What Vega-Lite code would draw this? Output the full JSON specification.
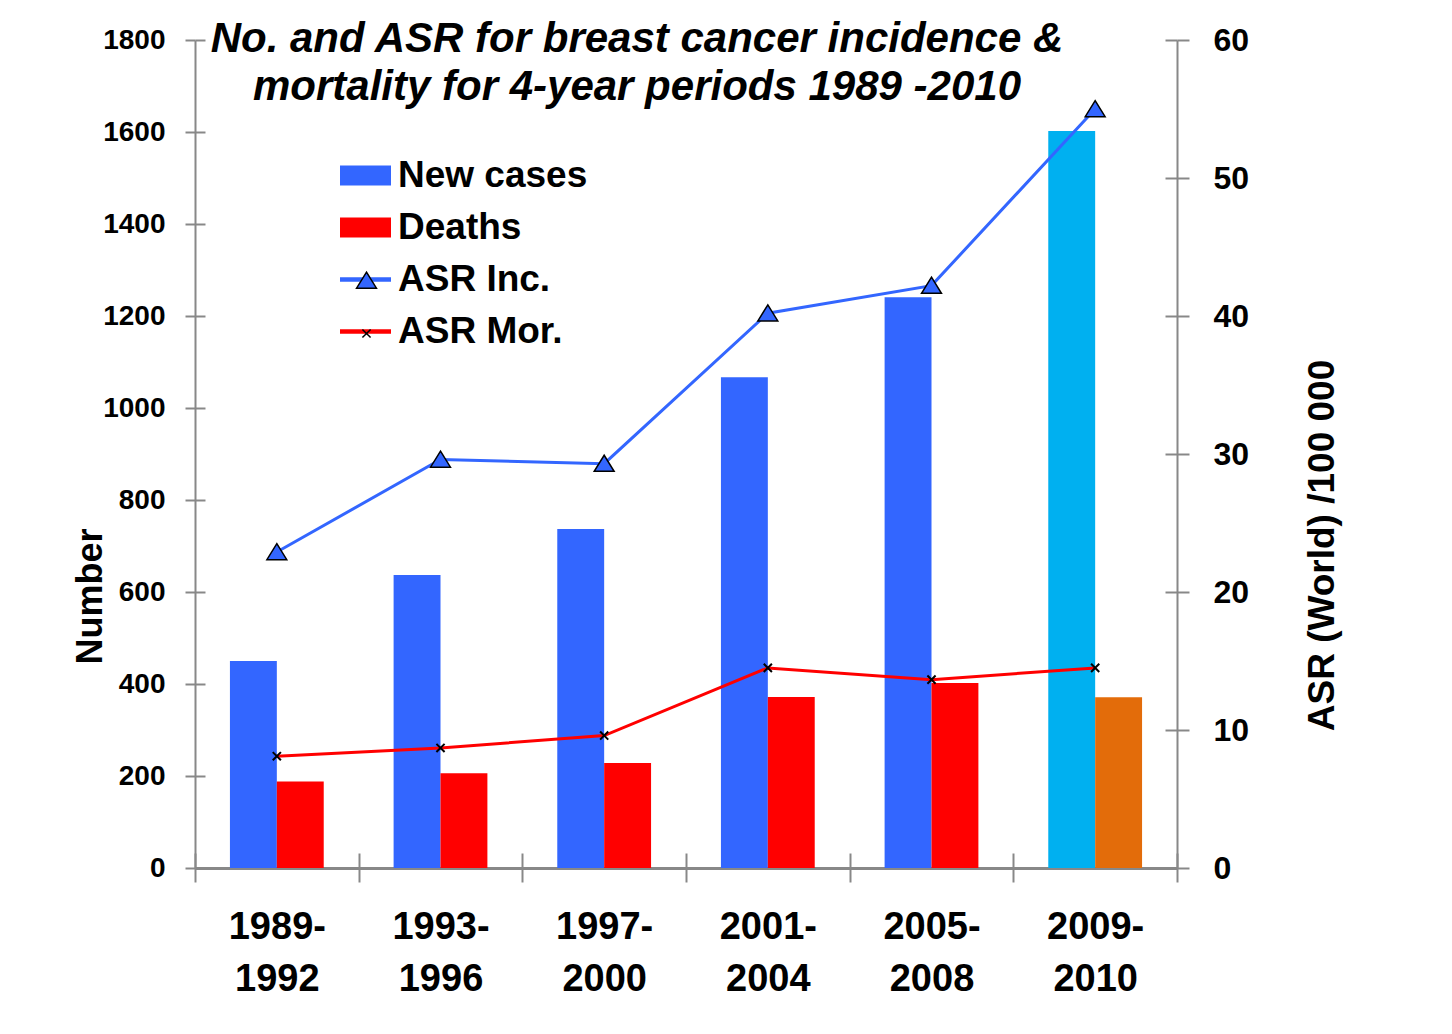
{
  "$schema": "https://vega.github.io/schema/vega-lite/v6.json",
  "width": 982,
  "height": 828,
  "autosize": {"type": "none"},
  "padding": {"left": 195, "top": 40, "right": 275, "bottom": 166},
  "background": "white",
  "config": {"view": {"stroke": null}, "font": "Liberation Sans"},
  "title": {
    "text": ["No. and ASR for breast cancer incidence &", "mortality for 4-year periods 1989 -2010"],
    "font": "Liberation Sans",
    "fontSize": 42,
    "fontStyle": "italic",
    "fontWeight": "bold",
    "color": "black",
    "anchor": "middle",
    "frame": "group",
    "dx": -49,
    "dy": 60,
    "offset": -67,
    "lineHeight": 48,
    "baseline": "bottom"
  },
  "data": {
    "values": [
      {"period": "1989-1992", "series": "New cases", "value": 450},
      {"period": "1989-1992", "series": "Deaths", "value": 188},
      {"period": "1989-1992", "series": "ASR Inc.", "value": 22.9},
      {"period": "1989-1992", "series": "ASR Mor.", "value": 8.1},
      {"period": "1993-1996", "series": "New cases", "value": 637},
      {"period": "1993-1996", "series": "Deaths", "value": 206},
      {"period": "1993-1996", "series": "ASR Inc.", "value": 29.6},
      {"period": "1993-1996", "series": "ASR Mor.", "value": 8.7},
      {"period": "1997-2000", "series": "New cases", "value": 737},
      {"period": "1997-2000", "series": "Deaths", "value": 228},
      {"period": "1997-2000", "series": "ASR Inc.", "value": 29.3},
      {"period": "1997-2000", "series": "ASR Mor.", "value": 9.6},
      {"period": "2001-2004", "series": "New cases", "value": 1067},
      {"period": "2001-2004", "series": "Deaths", "value": 372},
      {"period": "2001-2004", "series": "ASR Inc.", "value": 40.2},
      {"period": "2001-2004", "series": "ASR Mor.", "value": 14.5},
      {"period": "2005-2008", "series": "New cases", "value": 1241},
      {"period": "2005-2008", "series": "Deaths", "value": 402},
      {"period": "2005-2008", "series": "ASR Inc.", "value": 42.2},
      {"period": "2005-2008", "series": "ASR Mor.", "value": 13.65},
      {"period": "2009-2010", "series": "New cases", "value": 1602},
      {"period": "2009-2010", "series": "Deaths", "value": 371},
      {"period": "2009-2010", "series": "ASR Inc.", "value": 55.0},
      {"period": "2009-2010", "series": "ASR Mor.", "value": 14.5}
    ]
  },
  "layer": [
    {
      "layer": [
        {
          "transform": [{"filter": "datum.series === 'New cases' || datum.series === 'Deaths'"}],
          "mark": {"type": "bar"},
          "encoding": {
            "x": {
              "field": "period", "type": "nominal", "sort": null,
              "scale": {"type": "band", "paddingInner": 0, "paddingOuter": 0},
              "axis": {
                "title": null, "orient": "bottom",
                "domainColor": "#888888", "domainWidth": 3,
                "tickColor": "#888888", "tickWidth": 2, "tickSize": 14, "tickBand": "extent",
                "labelAngle": 0, "labelFont": "Liberation Sans", "labelFontSize": 38, "labelFontWeight": "bold",
                "labelColor": "black", "labelPadding": 26, "labelLineHeight": 52,
                "labelExpr": "[substring(datum.label,0,5), substring(datum.label,5)]"
              }
            },
            "xOffset": {
              "field": "series", "type": "nominal", "sort": ["New cases", "Deaths"],
              "scale": {"paddingInner": 0, "paddingOuter": 0.745}
            },
            "y": {
              "field": "value", "type": "quantitative",
              "scale": {"domain": [0, 1800], "nice": false},
              "axis": {
                "orient": "left", "title": "Number", "grid": false, "format": "d",
                "values": [0, 200, 400, 600, 800, 1000, 1200, 1400, 1600, 1800],
                "domainColor": "#888888", "domainWidth": 2,
                "tickColor": "#888888", "tickWidth": 2, "tickSize": 10,
                "labelPadding": 20, "labelFont": "Liberation Sans", "labelFontSize": 28, "labelFontWeight": "bold", "labelColor": "black",
                "titleFont": "Liberation Sans", "titleFontSize": 36, "titleFontWeight": "bold", "titleColor": "black",
                "titleX": -105, "titleY": 556, "titleAngle": -90, "titleBaseline": "middle", "titleAlign": "center"
              }
            },
            "color": {
              "condition": [
                {"test": "datum.period === '2009-2010' && datum.series === 'New cases'", "value": "#00B0F0"},
                {"test": "datum.period === '2009-2010' && datum.series === 'Deaths'", "value": "#E36C0A"}
              ],
              "field": "series", "type": "nominal",
              "scale": {
                "domain": ["New cases", "Deaths", "ASR Inc.", "ASR Mor."],
                "range": ["#3366FF", "#FF0000", "#3366FF", "#FF0000"]
              },
              "legend": {
                "orient": "none", "legendX": 145, "legendY": 110, "title": null,
                "padding": 0, "rowPadding": 8, "labelOffset": 7, "labelLimit": 500,
                "labelFont": "Liberation Sans", "labelFontSize": 37, "labelFontWeight": "bold", "labelColor": "black",
                "symbolSize": 2601, "symbolStrokeWidth": 0,
                "encode": {
                  "symbols": {
                    "update": {
                      "shape": {"signal": "(datum.value === 'New cases' || datum.value === 'Deaths') ? 'M-1,-0.39H1V0.39H-1Z' : 'M-1,-0.085H1V0.085H-1Z'"},
                      "fill": {"signal": "scale('color', datum.value)"},
                      "stroke": {"value": "transparent"},
                      "opacity": {"value": 1}
                    }
                  }
                }
              }
            }
          }
        },
        {
          "transform": [{"filter": "datum.series === 'ASR Inc.' || datum.series === 'ASR Mor.'"}],
          "encoding": {
            "x": {
              "field": "period", "type": "nominal", "sort": null,
              "axis": {
                "title": null, "orient": "bottom",
                "domainColor": "#888888", "domainWidth": 3,
                "tickColor": "#888888", "tickWidth": 2, "tickSize": 14, "tickBand": "extent",
                "labelAngle": 0, "labelFont": "Liberation Sans", "labelFontSize": 38, "labelFontWeight": "bold",
                "labelColor": "black", "labelPadding": 26, "labelLineHeight": 52,
                "labelExpr": "[substring(datum.label,0,5), substring(datum.label,5)]"
              }
            },
            "y": {
              "field": "value", "type": "quantitative",
              "scale": {"domain": [0, 60], "nice": false},
              "axis": {
                "orient": "right", "title": "ASR (World) /100 000", "grid": false,
                "values": [0, 10, 20, 30, 40, 50, 60],
                "domainColor": "#888888", "domainWidth": 2,
                "tickColor": "#888888", "tickWidth": 2, "tickSize": 12,
                "labelPadding": 24, "labelFont": "Liberation Sans", "labelFontSize": 32, "labelFontWeight": "bold", "labelColor": "black",
                "titleFont": "Liberation Sans", "titleFontSize": 37, "titleFontWeight": "bold", "titleColor": "black",
                "titleX": 145, "titleY": 505, "titleAngle": -90, "titleBaseline": "middle", "titleAlign": "center"
              }
            }
          },
          "layer": [
            {
              "mark": {"type": "line", "strokeWidth": 3},
              "encoding": {
                "color": {"field": "series", "type": "nominal"}
              }
            },
            {
              "mark": {"type": "point", "size": 2601, "filled": true, "stroke": "black", "opacity": 1},
              "encoding": {
                "shape": {
                  "field": "series", "type": "nominal",
                  "scale": {
                    "domain": ["ASR Inc.", "ASR Mor."],
                    "range": ["M0,-0.33L0.39,0.3H-0.39Z", "M-0.16,-0.16L0.16,0.16M-0.16,0.16L0.16,-0.16"]
                  },
                  "legend": {
                    "orient": "none", "legendX": 145, "legendY": 214, "title": null,
                    "padding": 0, "rowPadding": 8, "labelOffset": 7, "labelLimit": 500,
                    "labelFont": "Liberation Sans", "labelFontSize": 37, "labelFontWeight": "bold", "labelOpacity": 0,
                    "symbolSize": 2601,
                    "encode": {
                      "symbols": {
                        "update": {
                          "fill": {"value": "#3366FF"},
                          "stroke": {"value": "black"},
                          "strokeWidth": {"signal": "datum.value === 'ASR Inc.' ? 1.5 : 2"},
                          "opacity": {"value": 1}
                        }
                      }
                    }
                  }
                },
                "fill": {"value": "#3366FF"},
                "strokeWidth": {
                  "condition": {"test": "datum.series === 'ASR Inc.'", "value": 1.5},
                  "value": 2
                }
              }
            }
          ]
        }
      ],
      "resolve": {"scale": {"y": "independent"}}
    },
    {
      "transform": [{"filter": "datum.series === 'New cases'"}],
      "mark": {"type": "point", "opacity": 0},
      "encoding": {
        "x": {
          "field": "period", "type": "nominal", "sort": null,
          "scale": {"type": "band", "paddingInner": 0, "paddingOuter": 0},
          "axis": {
            "title": null, "orient": "bottom", "domain": false, "labels": false,
            "tickColor": "#888888", "tickWidth": 2, "tickSize": -15, "tickBand": "extent"
          }
        },
        "y": {
          "field": "value", "type": "quantitative",
          "scale": {"domain": [0, 1800], "nice": false},
          "axis": {
            "orient": "left", "title": null, "grid": false, "domain": false, "labels": false,
            "values": [0, 200, 400, 600, 800, 1000, 1200, 1400, 1600, 1800],
            "tickColor": "#888888", "tickWidth": 2, "tickSize": -10
          }
        }
      }
    },
    {
      "transform": [{"filter": "datum.series === 'ASR Inc.'"}],
      "mark": {"type": "point", "opacity": 0},
      "encoding": {
        "x": {"field": "period", "type": "nominal", "sort": null, "axis": null},
        "y": {
          "field": "value", "type": "quantitative",
          "scale": {"domain": [0, 60], "nice": false},
          "axis": {
            "orient": "right", "title": null, "grid": false, "domain": false, "labels": false,
            "values": [0, 10, 20, 30, 40, 50, 60],
            "tickColor": "#888888", "tickWidth": 2, "tickSize": -12
          }
        }
      }
    }
  ],
  "resolve": {"scale": {"x": "independent", "y": "independent"}}
}
